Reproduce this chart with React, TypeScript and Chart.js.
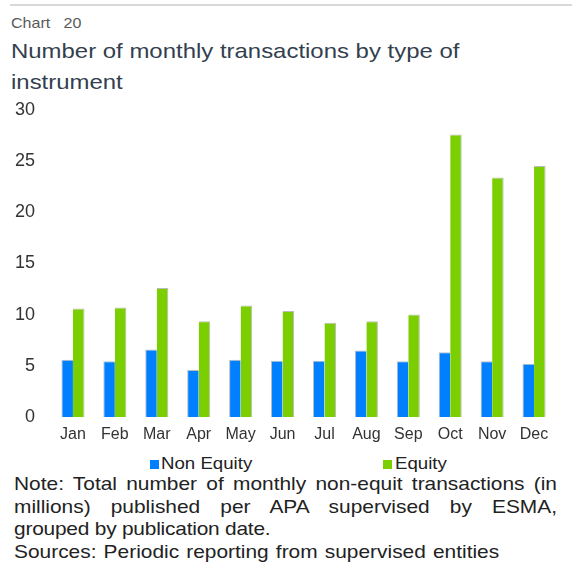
import React, { useEffect, useRef } from "react";
import { Chart, registerables } from "chart.js";

Chart.register(...registerables);

const months = ["Jan", "Feb", "Mar", "Apr", "May", "Jun", "Jul", "Aug", "Sep", "Oct", "Nov", "Dec"];
const nonEquity = [5.6, 5.45, 6.6, 4.6, 5.6, 5.5, 5.5, 6.5, 5.45, 6.33, 5.45, 5.2];
const equity = [10.6, 10.7, 12.6, 9.35, 10.9, 10.35, 9.2, 9.35, 10.0, 27.6, 23.4, 24.5];
const yTicks = [0, 5, 10, 15, 20, 25, 30];

const FONT = '"Liberation Sans", Arial, sans-serif';
const BLUE = "#0080FF";
const GREEN = "#7BCF00";

const noteLines = [
  "Note: Total number of monthly non-equit transactions (in",
  "millions) published per APA supervised by ESMA,",
  "grouped by publication date.",
  "Sources: Periodic reporting from supervised entities",
];

export default function App() {
  const ref = useRef<HTMLCanvasElement | null>(null);

  useEffect(() => {
    if (!ref.current) return;
    const chart = new Chart(ref.current, {
      type: "bar",
      data: {
        labels: months,
        datasets: [
          {
            label: "Non Equity",
            data: nonEquity,
            backgroundColor: BLUE,
            borderColor: "rgba(170,170,170,0.8)",
            borderWidth: { top: 1, left: 1, right: 0, bottom: 0 },
            borderSkipped: false,
          },
          {
            label: "Equity",
            data: equity,
            backgroundColor: GREEN,
            borderColor: "rgba(170,170,170,0.8)",
            borderWidth: { top: 1, right: 1, left: 0, bottom: 0 },
            borderSkipped: false,
          },
        ],
      },
      options: {
        animation: false,
        responsive: true,
        maintainAspectRatio: false,
        layout: { autoPadding: false, padding: { top: 0, bottom: 0, left: 0, right: 17 } },
        plugins: { legend: { display: false }, tooltip: { enabled: false } },
        datasets: { bar: { categoryPercentage: 0.55, barPercentage: 1 } },
        scales: {
          x: {
            afterFit: (s: any) => {
              s.height = 28;
            },
            grid: { display: false, drawTicks: false },
            border: { display: false },
            ticks: { color: "#333", font: { family: FONT, size: 16 }, padding: 8 },
          },
          y: {
            min: 0,
            max: 30,
            afterFit: (s: any) => {
              s.width = 52;
            },
            afterBuildTicks: (axis: any) => {
              axis.ticks = yTicks.map((v) => ({ value: v }));
            },
            grid: { display: false, drawTicks: false },
            border: { display: false },
            ticks: { color: "#333", font: { family: FONT, size: 18 }, padding: 17 },
          },
        },
      },
    });
    return () => chart.destroy();
  }, []);

  const scaled = (s: number): React.CSSProperties => ({
    transform: `scaleX(${s})`,
    transformOrigin: "0 0",
  });

  return (
    <div
      style={{
        position: "absolute",
        left: 0,
        top: 0,
        width: 572,
        height: 586,
        background: "#fff",
        fontFamily: FONT,
        overflow: "hidden",
      }}
    >
      <div style={{ position: "absolute", left: 10, top: 4, right: 0, height: 2, background: "#d9d9d9" }} />
      <div
        style={{
          position: "absolute",
          left: 11,
          top: 14,
          fontSize: 15,
          color: "#595959",
          whiteSpace: "pre",
          ...scaled(1.07),
        }}
      >
        {"Chart   20"}
      </div>
      <div
        style={{
          position: "absolute",
          left: 11,
          top: 35,
          fontSize: 21,
          lineHeight: "31px",
          color: "#333f4f",
          whiteSpace: "pre",
          ...scaled(1.14),
        }}
      >
        <div>Number of monthly transactions by type of</div>
        <div>instrument</div>
      </div>
      <div style={{ position: "absolute", left: 0, top: 82, width: 572, height: 363 }}>
        <canvas ref={ref} />
      </div>
      <div style={{ position: "absolute", left: 150, top: 460, width: 9, height: 9, background: BLUE }} />
      <div
        style={{ position: "absolute", left: 161, top: 454, fontSize: 16.5, color: "#222", whiteSpace: "pre", ...scaled(1.13) }}
      >
        Non Equity
      </div>
      <div style={{ position: "absolute", left: 383, top: 460, width: 9, height: 9, background: GREEN }} />
      <div
        style={{ position: "absolute", left: 395, top: 454, fontSize: 16.5, color: "#222", whiteSpace: "pre", ...scaled(1.13) }}
      >
        Equity
      </div>
      <div
        style={{
          position: "absolute",
          left: 14,
          top: 473,
          width: 543 / 1.1,
          fontSize: 19,
          lineHeight: "22.7px",
          color: "#222",
          ...scaled(1.1),
        }}
      >
        <div style={{ textAlign: "justify", textAlignLast: "justify", whiteSpace: "nowrap" }}>{noteLines[0]}</div>
        <div style={{ textAlign: "justify", textAlignLast: "justify", whiteSpace: "nowrap" }}>{noteLines[1]}</div>
        <div style={{ whiteSpace: "nowrap", letterSpacing: -0.2 }}>{noteLines[2]}</div>
        <div style={{ whiteSpace: "nowrap", wordSpacing: 1.2 }}>{noteLines[3]}</div>
      </div>
    </div>
  );
}
